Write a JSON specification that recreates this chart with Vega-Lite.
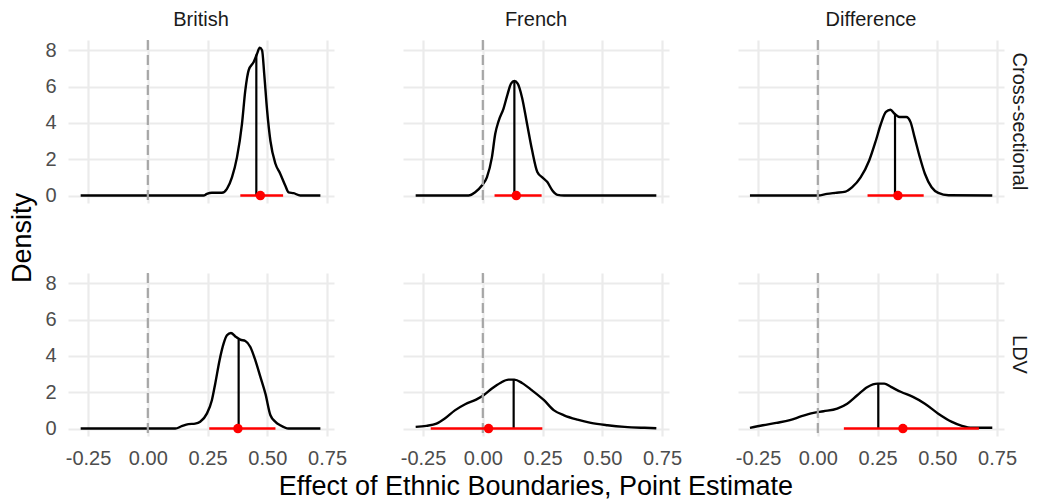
{
  "$schema": "https://vega.github.io/schema/vega-lite/v6.json",
  "background": "white",
  "padding": {"left": 8, "top": 10, "right": 0, "bottom": 0},
  "data": {"values": [
    {"m":"Cross-sectional","e":"British","k":"c","x":-0.281,"d":0},
    {"m":"Cross-sectional","e":"British","k":"c","x":0.233,"d":0},
    {"m":"Cross-sectional","e":"British","k":"c","x":0.247,"d":0.09},
    {"m":"Cross-sectional","e":"British","k":"c","x":0.268,"d":0.15},
    {"m":"Cross-sectional","e":"British","k":"c","x":0.31,"d":0.15},
    {"m":"Cross-sectional","e":"British","k":"c","x":0.331,"d":0.37},
    {"m":"Cross-sectional","e":"British","k":"c","x":0.352,"d":1.0},
    {"m":"Cross-sectional","e":"British","k":"c","x":0.373,"d":2.1},
    {"m":"Cross-sectional","e":"British","k":"c","x":0.394,"d":3.95},
    {"m":"Cross-sectional","e":"British","k":"c","x":0.408,"d":5.8},
    {"m":"Cross-sectional","e":"British","k":"c","x":0.422,"d":6.9},
    {"m":"Cross-sectional","e":"British","k":"c","x":0.443,"d":7.35},
    {"m":"Cross-sectional","e":"British","k":"c","x":0.457,"d":7.8},
    {"m":"Cross-sectional","e":"British","k":"c","x":0.468,"d":8.14},
    {"m":"Cross-sectional","e":"British","k":"c","x":0.478,"d":8.0},
    {"m":"Cross-sectional","e":"British","k":"c","x":0.487,"d":6.7},
    {"m":"Cross-sectional","e":"British","k":"c","x":0.499,"d":4.7},
    {"m":"Cross-sectional","e":"British","k":"c","x":0.513,"d":3.0},
    {"m":"Cross-sectional","e":"British","k":"c","x":0.534,"d":1.75},
    {"m":"Cross-sectional","e":"British","k":"c","x":0.554,"d":1.2},
    {"m":"Cross-sectional","e":"British","k":"c","x":0.575,"d":0.55},
    {"m":"Cross-sectional","e":"British","k":"c","x":0.589,"d":0.18},
    {"m":"Cross-sectional","e":"British","k":"c","x":0.61,"d":0.13},
    {"m":"Cross-sectional","e":"British","k":"c","x":0.638,"d":0},
    {"m":"Cross-sectional","e":"British","k":"c","x":0.722,"d":0},

    {"m":"Cross-sectional","e":"French","k":"c","x":-0.281,"d":0},
    {"m":"Cross-sectional","e":"French","k":"c","x":-0.06,"d":0},
    {"m":"Cross-sectional","e":"French","k":"c","x":-0.032,"d":0.18},
    {"m":"Cross-sectional","e":"French","k":"c","x":-0.004,"d":0.55},
    {"m":"Cross-sectional","e":"French","k":"c","x":0.017,"d":1.0},
    {"m":"Cross-sectional","e":"French","k":"c","x":0.038,"d":2.1},
    {"m":"Cross-sectional","e":"French","k":"c","x":0.052,"d":3.4},
    {"m":"Cross-sectional","e":"French","k":"c","x":0.066,"d":4.1},
    {"m":"Cross-sectional","e":"French","k":"c","x":0.087,"d":4.8},
    {"m":"Cross-sectional","e":"French","k":"c","x":0.104,"d":5.6},
    {"m":"Cross-sectional","e":"French","k":"c","x":0.118,"d":6.16},
    {"m":"Cross-sectional","e":"French","k":"c","x":0.132,"d":6.3},
    {"m":"Cross-sectional","e":"French","k":"c","x":0.146,"d":6.16},
    {"m":"Cross-sectional","e":"French","k":"c","x":0.164,"d":5.4},
    {"m":"Cross-sectional","e":"French","k":"c","x":0.185,"d":3.95},
    {"m":"Cross-sectional","e":"French","k":"c","x":0.206,"d":2.5},
    {"m":"Cross-sectional","e":"French","k":"c","x":0.228,"d":1.3},
    {"m":"Cross-sectional","e":"French","k":"c","x":0.249,"d":1.0},
    {"m":"Cross-sectional","e":"French","k":"c","x":0.27,"d":0.74},
    {"m":"Cross-sectional","e":"French","k":"c","x":0.291,"d":0.28},
    {"m":"Cross-sectional","e":"French","k":"c","x":0.312,"d":0.04},
    {"m":"Cross-sectional","e":"French","k":"c","x":0.34,"d":0},
    {"m":"Cross-sectional","e":"French","k":"c","x":0.726,"d":0},

    {"m":"Cross-sectional","e":"Difference","k":"c","x":-0.284,"d":0},
    {"m":"Cross-sectional","e":"Difference","k":"c","x":0.0,"d":0},
    {"m":"Cross-sectional","e":"Difference","k":"c","x":0.038,"d":0.09},
    {"m":"Cross-sectional","e":"Difference","k":"c","x":0.073,"d":0.15},
    {"m":"Cross-sectional","e":"Difference","k":"c","x":0.116,"d":0.22},
    {"m":"Cross-sectional","e":"Difference","k":"c","x":0.144,"d":0.46},
    {"m":"Cross-sectional","e":"Difference","k":"c","x":0.179,"d":1.0},
    {"m":"Cross-sectional","e":"Difference","k":"c","x":0.215,"d":1.93},
    {"m":"Cross-sectional","e":"Difference","k":"c","x":0.243,"d":3.03},
    {"m":"Cross-sectional","e":"Difference","k":"c","x":0.264,"d":3.95},
    {"m":"Cross-sectional","e":"Difference","k":"c","x":0.285,"d":4.6},
    {"m":"Cross-sectional","e":"Difference","k":"c","x":0.304,"d":4.72},
    {"m":"Cross-sectional","e":"Difference","k":"c","x":0.321,"d":4.5},
    {"m":"Cross-sectional","e":"Difference","k":"c","x":0.342,"d":4.32},
    {"m":"Cross-sectional","e":"Difference","k":"c","x":0.37,"d":4.32},
    {"m":"Cross-sectional","e":"Difference","k":"c","x":0.388,"d":4.04},
    {"m":"Cross-sectional","e":"Difference","k":"c","x":0.405,"d":3.2},
    {"m":"Cross-sectional","e":"Difference","k":"c","x":0.427,"d":2.1},
    {"m":"Cross-sectional","e":"Difference","k":"c","x":0.448,"d":1.2},
    {"m":"Cross-sectional","e":"Difference","k":"c","x":0.476,"d":0.46},
    {"m":"Cross-sectional","e":"Difference","k":"c","x":0.504,"d":0.15},
    {"m":"Cross-sectional","e":"Difference","k":"c","x":0.547,"d":0.02},
    {"m":"Cross-sectional","e":"Difference","k":"c","x":0.73,"d":0},

    {"m":"LDV","e":"British","k":"c","x":-0.281,"d":0},
    {"m":"LDV","e":"British","k":"c","x":0.115,"d":0},
    {"m":"LDV","e":"British","k":"c","x":0.142,"d":0.13},
    {"m":"LDV","e":"British","k":"c","x":0.17,"d":0.24},
    {"m":"LDV","e":"British","k":"c","x":0.198,"d":0.27},
    {"m":"LDV","e":"British","k":"c","x":0.219,"d":0.37},
    {"m":"LDV","e":"British","k":"c","x":0.247,"d":0.82},
    {"m":"LDV","e":"British","k":"c","x":0.268,"d":1.56},
    {"m":"LDV","e":"British","k":"c","x":0.282,"d":2.47},
    {"m":"LDV","e":"British","k":"c","x":0.3,"d":3.75},
    {"m":"LDV","e":"British","k":"c","x":0.317,"d":4.67},
    {"m":"LDV","e":"British","k":"c","x":0.331,"d":5.13},
    {"m":"LDV","e":"British","k":"c","x":0.348,"d":5.26},
    {"m":"LDV","e":"British","k":"c","x":0.366,"d":5.07},
    {"m":"LDV","e":"British","k":"c","x":0.387,"d":4.89},
    {"m":"LDV","e":"British","k":"c","x":0.408,"d":4.82},
    {"m":"LDV","e":"British","k":"c","x":0.429,"d":4.49},
    {"m":"LDV","e":"British","k":"c","x":0.45,"d":3.75},
    {"m":"LDV","e":"British","k":"c","x":0.471,"d":2.84},
    {"m":"LDV","e":"British","k":"c","x":0.492,"d":1.92},
    {"m":"LDV","e":"British","k":"c","x":0.513,"d":0.73},
    {"m":"LDV","e":"British","k":"c","x":0.534,"d":0.37},
    {"m":"LDV","e":"British","k":"c","x":0.554,"d":0.18},
    {"m":"LDV","e":"British","k":"c","x":0.589,"d":0},
    {"m":"LDV","e":"British","k":"c","x":0.722,"d":0},

    {"m":"LDV","e":"French","k":"c","x":-0.281,"d":0.09},
    {"m":"LDV","e":"French","k":"c","x":-0.236,"d":0.15},
    {"m":"LDV","e":"French","k":"c","x":-0.194,"d":0.27},
    {"m":"LDV","e":"French","k":"c","x":-0.159,"d":0.55},
    {"m":"LDV","e":"French","k":"c","x":-0.117,"d":1.0},
    {"m":"LDV","e":"French","k":"c","x":-0.074,"d":1.34},
    {"m":"LDV","e":"French","k":"c","x":-0.028,"d":1.59},
    {"m":"LDV","e":"French","k":"c","x":0.003,"d":1.83},
    {"m":"LDV","e":"French","k":"c","x":0.038,"d":2.2},
    {"m":"LDV","e":"French","k":"c","x":0.073,"d":2.51},
    {"m":"LDV","e":"French","k":"c","x":0.108,"d":2.69},
    {"m":"LDV","e":"French","k":"c","x":0.132,"d":2.69},
    {"m":"LDV","e":"French","k":"c","x":0.164,"d":2.51},
    {"m":"LDV","e":"French","k":"c","x":0.206,"d":2.1},
    {"m":"LDV","e":"French","k":"c","x":0.256,"d":1.56},
    {"m":"LDV","e":"French","k":"c","x":0.298,"d":1.0},
    {"m":"LDV","e":"French","k":"c","x":0.34,"d":0.73},
    {"m":"LDV","e":"French","k":"c","x":0.396,"d":0.49},
    {"m":"LDV","e":"French","k":"c","x":0.452,"d":0.31},
    {"m":"LDV","e":"French","k":"c","x":0.522,"d":0.18},
    {"m":"LDV","e":"French","k":"c","x":0.593,"d":0.09},
    {"m":"LDV","e":"French","k":"c","x":0.677,"d":0.04},
    {"m":"LDV","e":"French","k":"c","x":0.726,"d":0.02},

    {"m":"LDV","e":"Difference","k":"c","x":-0.284,"d":0.04},
    {"m":"LDV","e":"Difference","k":"c","x":-0.23,"d":0.18},
    {"m":"LDV","e":"Difference","k":"c","x":-0.174,"d":0.31},
    {"m":"LDV","e":"Difference","k":"c","x":-0.117,"d":0.46},
    {"m":"LDV","e":"Difference","k":"c","x":-0.068,"d":0.68},
    {"m":"LDV","e":"Difference","k":"c","x":-0.018,"d":0.86},
    {"m":"LDV","e":"Difference","k":"c","x":0.024,"d":0.95},
    {"m":"LDV","e":"Difference","k":"c","x":0.081,"d":1.1},
    {"m":"LDV","e":"Difference","k":"c","x":0.123,"d":1.37},
    {"m":"LDV","e":"Difference","k":"c","x":0.165,"d":1.83},
    {"m":"LDV","e":"Difference","k":"c","x":0.208,"d":2.29},
    {"m":"LDV","e":"Difference","k":"c","x":0.25,"d":2.47},
    {"m":"LDV","e":"Difference","k":"c","x":0.278,"d":2.47},
    {"m":"LDV","e":"Difference","k":"c","x":0.306,"d":2.29},
    {"m":"LDV","e":"Difference","k":"c","x":0.349,"d":2.01},
    {"m":"LDV","e":"Difference","k":"c","x":0.398,"d":1.74},
    {"m":"LDV","e":"Difference","k":"c","x":0.448,"d":1.37},
    {"m":"LDV","e":"Difference","k":"c","x":0.504,"d":0.82},
    {"m":"LDV","e":"Difference","k":"c","x":0.561,"d":0.37},
    {"m":"LDV","e":"Difference","k":"c","x":0.603,"d":0.15},
    {"m":"LDV","e":"Difference","k":"c","x":0.645,"d":0.04},
    {"m":"LDV","e":"Difference","k":"c","x":0.73,"d":0.04},

    {"m":"Cross-sectional","e":"British","k":"s","zero":0,"mean":0.454,"h":7.75,"pt":0.471,"lo":0.387,"hi":0.566},
    {"m":"Cross-sectional","e":"French","k":"s","zero":0,"mean":0.132,"h":6.3,"pt":0.140,"lo":0.049,"hi":0.246},
    {"m":"Cross-sectional","e":"Difference","k":"s","zero":0,"mean":0.323,"h":4.5,"pt":0.335,"lo":0.208,"hi":0.443},
    {"m":"LDV","e":"British","k":"s","zero":0,"mean":0.38,"h":4.89,"pt":0.377,"lo":0.257,"hi":0.534},
    {"m":"LDV","e":"French","k":"s","zero":0,"mean":0.129,"h":2.69,"pt":0.024,"lo":-0.218,"hi":0.249},
    {"m":"LDV","e":"Difference","k":"s","zero":0,"mean":0.253,"h":2.47,"pt":0.356,"lo":0.109,"hi":0.674}
  ]},
  "facet": {
    "row": {"field": "m", "type": "nominal", "sort": ["Cross-sectional", "LDV"], "title": "Density",
      "header": {"labelOrient": "right", "labelAngle": 90, "labelPadding": 5, "labelFontSize": 20, "labelColor": "#1A1A1A",
        "titleOrient": "left", "titleFontSize": 27, "titleFontWeight": "normal", "titleColor": "black", "titlePadding": -3}},
    "column": {"field": "e", "type": "nominal", "sort": ["British", "French", "Difference"], "title": "Effect of Ethnic Boundaries, Point Estimate",
      "header": {"labelOrient": "top", "labelPadding": 8, "labelFontSize": 20, "labelColor": "#1A1A1A",
        "titleOrient": "bottom", "titleFontSize": 27, "titleFontWeight": "normal", "titleColor": "black", "titlePadding": -4}}
  },
  "spacing": {"row": 66, "column": 69},
  "spec": {
    "width": 266,
    "height": 163,
    "layer": [
      {
        "transform": [{"filter": "datum.k == 'c'"}],
        "mark": {"type": "line", "color": "black", "strokeWidth": 2.4, "interpolate": "monotone"},
        "encoding": {
          "x": {"field": "x", "type": "quantitative",
            "scale": {"domain": [-0.334, 0.779], "nice": false, "zero": false},
            "axis": {"values": [-0.25, -0.125, 0, 0.125, 0.25, 0.375, 0.5, 0.625, 0.75],
              "labelExpr": "abs(datum.value*4 - round(datum.value*4)) > 0.01 ? '' : (datum.value < 0 ? '-' : '') + format(abs(datum.value), '.2f')",
              "gridWidth": {"condition": {"test": "abs(datum.value*4 - round(datum.value*4)) > 0.01", "value": 1.1}, "value": 2.2},
              "title": null}},
          "y": {"field": "d", "type": "quantitative",
            "scale": {"domain": [-0.41, 8.56], "nice": false, "zero": false},
            "axis": {"values": [0, 1, 2, 3, 4, 5, 6, 7, 8],
              "labelExpr": "datum.value % 2 == 0 ? datum.label : ''",
              "gridWidth": {"condition": {"test": "datum.value % 2 == 1", "value": 1.1}, "value": 2.2},
              "labelPadding": 12,
              "title": null}}
        }
      },
      {
        "transform": [{"filter": "datum.k == 's'"}],
        "mark": {"type": "rule", "color": "#A6A6A6", "strokeWidth": 2.2, "strokeDash": [10, 5]},
        "encoding": {
          "x": {"field": "zero", "type": "quantitative", "title": null}
        }
      },
      {
        "transform": [{"filter": "datum.k == 's'"}],
        "mark": {"type": "rule", "color": "black", "strokeWidth": 2.2},
        "encoding": {
          "x": {"field": "mean", "type": "quantitative", "title": null},
          "y": {"field": "zero", "type": "quantitative", "title": null},
          "y2": {"field": "h"}
        }
      },
      {
        "transform": [{"filter": "datum.k == 's'"}],
        "mark": {"type": "rule", "color": "#FF0000", "strokeWidth": 2.5},
        "encoding": {
          "x": {"field": "lo", "type": "quantitative", "title": null},
          "x2": {"field": "hi"},
          "y": {"field": "zero", "type": "quantitative", "title": null}
        }
      },
      {
        "transform": [{"filter": "datum.k == 's'"}],
        "mark": {"type": "point", "filled": true, "color": "#FF0000", "opacity": 1, "size": 90},
        "encoding": {
          "x": {"field": "pt", "type": "quantitative", "title": null},
          "y": {"field": "zero", "type": "quantitative", "title": null}
        }
      }
    ]
  },
  "config": {
    "font": "Liberation Sans",
    "view": {"stroke": null},
    "axis": {
      "domain": false, "ticks": false,
      "gridColor": "#EBEBEB", "gridWidth": 2,
      "labelColor": "#4D4D4D", "labelFontSize": 20, "labelFont": "Liberation Sans",
      "labelPadding": 10
    },
    "header": {"labelFont": "Liberation Sans", "titleFont": "Liberation Sans"}
  }
}
